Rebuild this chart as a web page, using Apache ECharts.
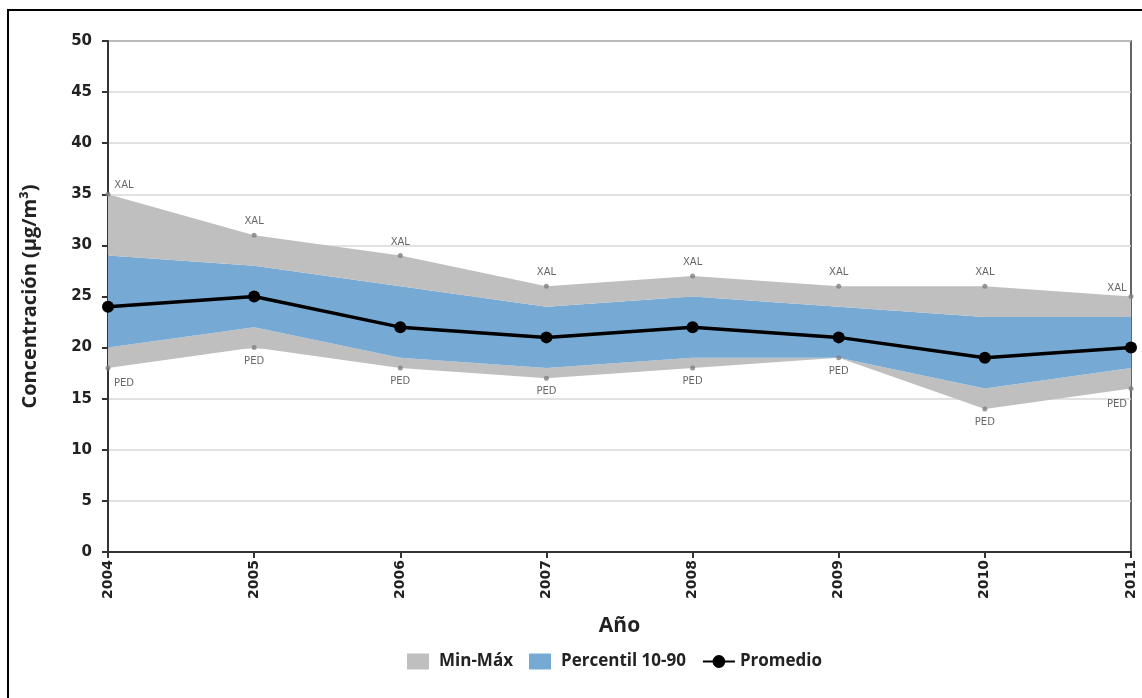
<!DOCTYPE html>
<html>
<head>
<meta charset="utf-8">
<script src="https://cdn.jsdelivr.net/npm/echarts@6/dist/echarts.min.js"></script>
<style>html,body{margin:0;padding:0;background:#fff;}#c{width:1142px;height:698px;}</style>
</head>
<body>
<div id="c"></div>
<script>
const years = ['2004','2005','2006','2007','2008','2009','2010','2011'];
const minVals = [18, 20, 18, 17, 18, 19, 14, 16];
const p10Vals = [20, 22, 19, 18, 19, 19, 16, 18];
const p90Vals = [29, 28, 26, 24, 25, 24, 23, 23];
const maxVals = [35, 31, 29, 26, 27, 26, 26, 25];
const avgVals = [24, 25, 22, 21, 22, 21, 19, 20];
const maxStations = ['XAL','XAL','XAL','XAL','XAL','XAL','XAL','XAL'];
const minStations = ['PED','PED','PED','PED','PED','PED','PED','PED'];
const yTicks = [0, 5, 10, 15, 20, 25, 30, 35, 40, 45, 50];

const GREY = '#BFBFBF';
const BLUE = '#76AAD4';
const last = years.length - 1;

const diff = (a, b) => a.map((v, i) => +(v - b[i]).toFixed(3));

function labelOffset(i, dy) {
  if (i === 0) return [16, dy];
  if (i === last) return [-14, dy];
  return [0, 0];
}

const rectIcon = 'path://M0,0L22,0L22,16L0,16Z';

const chart = echarts.init(document.getElementById('c'), null, {renderer: 'canvas'});
chart.setOption({
  animation: false,
  backgroundColor: '#fff',
  graphic: [{
    type: 'rect', shape: {x: 8, y: 10, width: 1200, height: 1000},
    style: {fill: 'none', stroke: '#000', lineWidth: 2}, z: -10
  }],
  grid: {left: 108, right: 11, top: 41, bottom: 146, show: true, borderColor: '#333', borderWidth: 1.5, backgroundColor: 'transparent'},
  legend: {
    top: 648, left: 402, itemGap: 16, itemWidth: 32, itemHeight: 16,
    textStyle: {fontFamily: 'Open Sans', fontWeight: 'bold', fontSize: 17, color: '#222'},
    data: [
      {name: 'Min-Máx', icon: rectIcon},
      {name: 'Percentil 10-90', icon: rectIcon},
      {name: 'Promedio'}
    ]
  },
  xAxis: {
    type: 'category', data: years, boundaryGap: false,
    name: 'Año', nameLocation: 'middle', nameGap: 64,
    nameTextStyle: {fontFamily: 'Open Sans', fontWeight: 'bold', fontSize: 21, color: '#222'},
    axisLine: {lineStyle: {color: '#333', width: 2}},
    axisTick: {show: true, alignWithLabel: true, length: 6, lineStyle: {color: '#333', width: 2}},
    axisLabel: {rotate: 90, margin: 8, fontFamily: 'DejaVu Sans', fontWeight: 'bold', fontSize: 14, color: '#222'},
    splitLine: {show: false}
  },
  yAxis: {
    type: 'value', min: 0, max: 50, interval: 5,
    name: 'Concentración (µg/m³)', nameLocation: 'middle', nameGap: 68,
    nameTextStyle: {fontFamily: 'Open Sans', fontWeight: 'bold', fontSize: 20, color: '#222'},
    axisLine: {show: true, lineStyle: {color: '#333', width: 2}},
    axisTick: {show: true, length: 6, lineStyle: {color: '#333', width: 2}},
    axisLabel: {
      margin: 16, fontFamily: 'DejaVu Sans', fontWeight: 'bold', fontSize: 15, color: '#222',
      formatter: v => yTicks.includes(v) ? String(v) : ''
    },
    splitLine: {lineStyle: {color: '#D9D9D9', width: 1.5}}
  },
  series: [
    {
      name: 'base', type: 'line', stack: 'band', data: minVals,
      symbol: 'none', lineStyle: {opacity: 0}, areaStyle: {opacity: 0}, silent: true, z: 1
    },
    {
      name: 'Min-Máx', type: 'line', stack: 'band', data: diff(p10Vals, minVals),
      symbol: 'none', lineStyle: {opacity: 0}, itemStyle: {color: GREY},
      areaStyle: {color: GREY, opacity: 1}, z: 1
    },
    {
      name: 'Percentil 10-90', type: 'line', stack: 'band', data: diff(p90Vals, p10Vals),
      symbol: 'none', lineStyle: {opacity: 0}, itemStyle: {color: BLUE},
      areaStyle: {color: BLUE, opacity: 1}, z: 1
    },
    {
      name: 'Min-Máx', type: 'line', stack: 'band', data: diff(maxVals, p90Vals),
      symbol: 'none', lineStyle: {opacity: 0}, itemStyle: {color: GREY},
      areaStyle: {color: GREY, opacity: 1}, z: 1
    },
    {
      name: 'maxPts', type: 'scatter', data: maxVals.map((v, i) => ({
        value: v,
        label: {offset: labelOffset(i, 5)}
      })),
      symbolSize: 5, itemStyle: {color: '#808080'}, z: 3,
      label: {
        show: true, position: 'top', distance: 6,
        formatter: p => maxStations[p.dataIndex],
        fontFamily: 'DejaVu Sans', fontSize: 10, color: '#404040'
      }
    },
    {
      name: 'minPts', type: 'scatter', data: minVals.map((v, i) => ({
        value: v,
        label: {offset: labelOffset(i, 2)}
      })),
      symbolSize: 5, itemStyle: {color: '#808080'}, z: 3,
      label: {
        show: true, position: 'bottom', distance: 6,
        formatter: p => minStations[p.dataIndex],
        fontFamily: 'DejaVu Sans', fontSize: 10, color: '#404040'
      }
    },
    {
      name: 'Promedio', type: 'line', data: avgVals,
      symbol: 'circle', symbolSize: 12,
      lineStyle: {color: '#000', width: 3.5}, itemStyle: {color: '#000'}, z: 5
    }
  ]
});
</script>
</body>
</html>
